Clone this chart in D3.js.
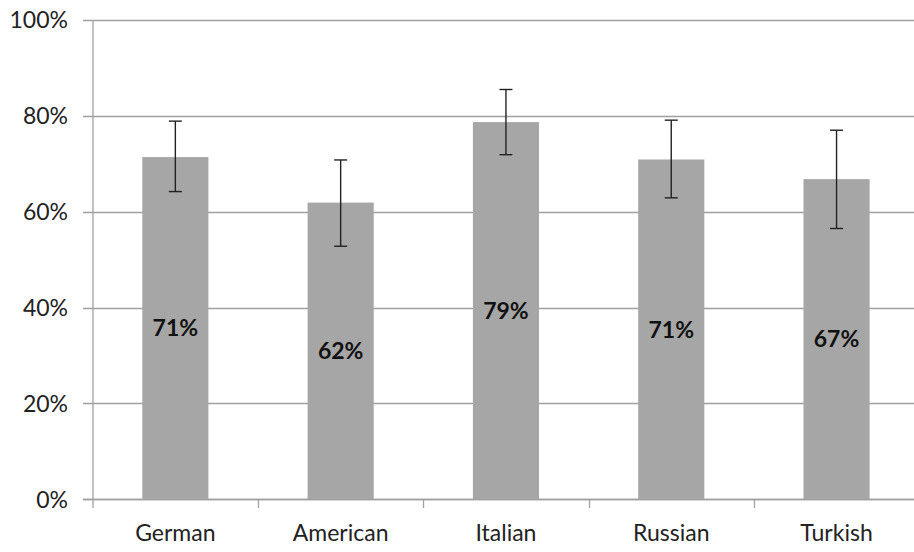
<!DOCTYPE html>
<html><head><meta charset="utf-8">
<script src="https://cdn.jsdelivr.net/npm/d3@7/dist/d3.min.js"></script>
<style>body{margin:0;background:#fff}svg{display:block}</style>
</head><body>
<script>
const categories = ["German","American","Italian","Russian","Turkish"];
const values = [71.4, 61.9, 78.7, 70.9, 66.8];
const errLow = [64.2, 52.8, 71.9, 62.9, 56.5];
const errHigh = [78.9, 70.8, 85.5, 79.1, 77.0];
const yTicks = [0,20,40,60,80,100];

const W=914,H=552;
const m={left:92.7,top:20,right:-5,bottom:52.7};
const svg=d3.select("body").append("svg").attr("width",W).attr("height",H);
const x=d3.scaleBand().domain(categories).range([m.left, m.left+5*165.3]).paddingInner(0.6).paddingOuter(0.3);
const y=d3.scaleLinear().domain([0,100]).range([499.3,20]);
const font="Lato, 'Open Sans', sans-serif";

// gridlines
svg.append("g").selectAll("line").data(yTicks).join("line")
 .attr("x1",83).attr("x2",W).attr("y1",d=>Math.round(y(d))+0.5).attr("y2",d=>Math.round(y(d))+0.5)
 .attr("stroke","#a0a0a0").attr("stroke-width",1.3);
// y labels
svg.append("g").selectAll("text").data(yTicks).join("text")
 .attr("x",68).attr("y",d=>y(d)).attr("dy","0.36em").attr("text-anchor","end")
 .attr("font-family",font).attr("font-size",23).attr("fill","#222").text(d=>d+"%");
// left axis
svg.append("line").attr("x1",93).attr("x2",93).attr("y1",20).attr("y2",508).attr("stroke","#a0a0a0").attr("stroke-width",1.3);
// x ticks at boundaries
const bounds=d3.range(1,5).map(i=>m.left+i*165.3);
svg.append("g").selectAll("line").data(bounds).join("line")
 .attr("x1",d=>Math.round(d)+0.5).attr("x2",d=>Math.round(d)+0.5).attr("y1",499).attr("y2",508)
 .attr("stroke","#a0a0a0").attr("stroke-width",1.3);
// bars
svg.append("g").selectAll("rect").data(categories).join("rect")
 .attr("x",d=>x(d)).attr("width",x.bandwidth())
 .attr("y",(d,i)=>y(values[i])).attr("height",(d,i)=>y(0)-y(values[i]))
 .attr("fill","#a6a6a6");
// redraw baseline over bars
svg.append("line").attr("x1",83).attr("x2",W).attr("y1",499.5).attr("y2",499.5).attr("stroke","#a0a0a0").attr("stroke-width",1.3);
// error bars
const eg=svg.append("g").attr("stroke","#222").attr("stroke-width",1.4);
categories.forEach((c,i)=>{
  const cx=x(c)+x.bandwidth()/2;
  eg.append("line").attr("x1",cx).attr("x2",cx).attr("y1",y(errHigh[i])).attr("y2",y(errLow[i]));
  eg.append("line").attr("x1",cx-6.5).attr("x2",cx+6.5).attr("y1",y(errHigh[i])).attr("y2",y(errHigh[i]));
  eg.append("line").attr("x1",cx-6.5).attr("x2",cx+6.5).attr("y1",y(errLow[i])).attr("y2",y(errLow[i]));
});
// value labels
svg.append("g").selectAll("text").data(categories).join("text")
 .attr("x",d=>x(d)+x.bandwidth()/2).attr("y",(d,i)=>y(values[i]/2)).attr("dy","0.36em")
 .attr("text-anchor","middle").attr("font-family",font).attr("font-weight","bold").attr("font-size",23).attr("fill","#111")
 .text((d,i)=>Math.round(values[i])+"%");
// x labels
svg.append("g").selectAll("text").data(categories).join("text")
 .attr("x",d=>x(d)+x.bandwidth()/2).attr("y",541).attr("text-anchor","middle")
 .attr("font-family",font).attr("font-size",23).attr("fill","#222").text(d=>d);
</script>
</body></html>
